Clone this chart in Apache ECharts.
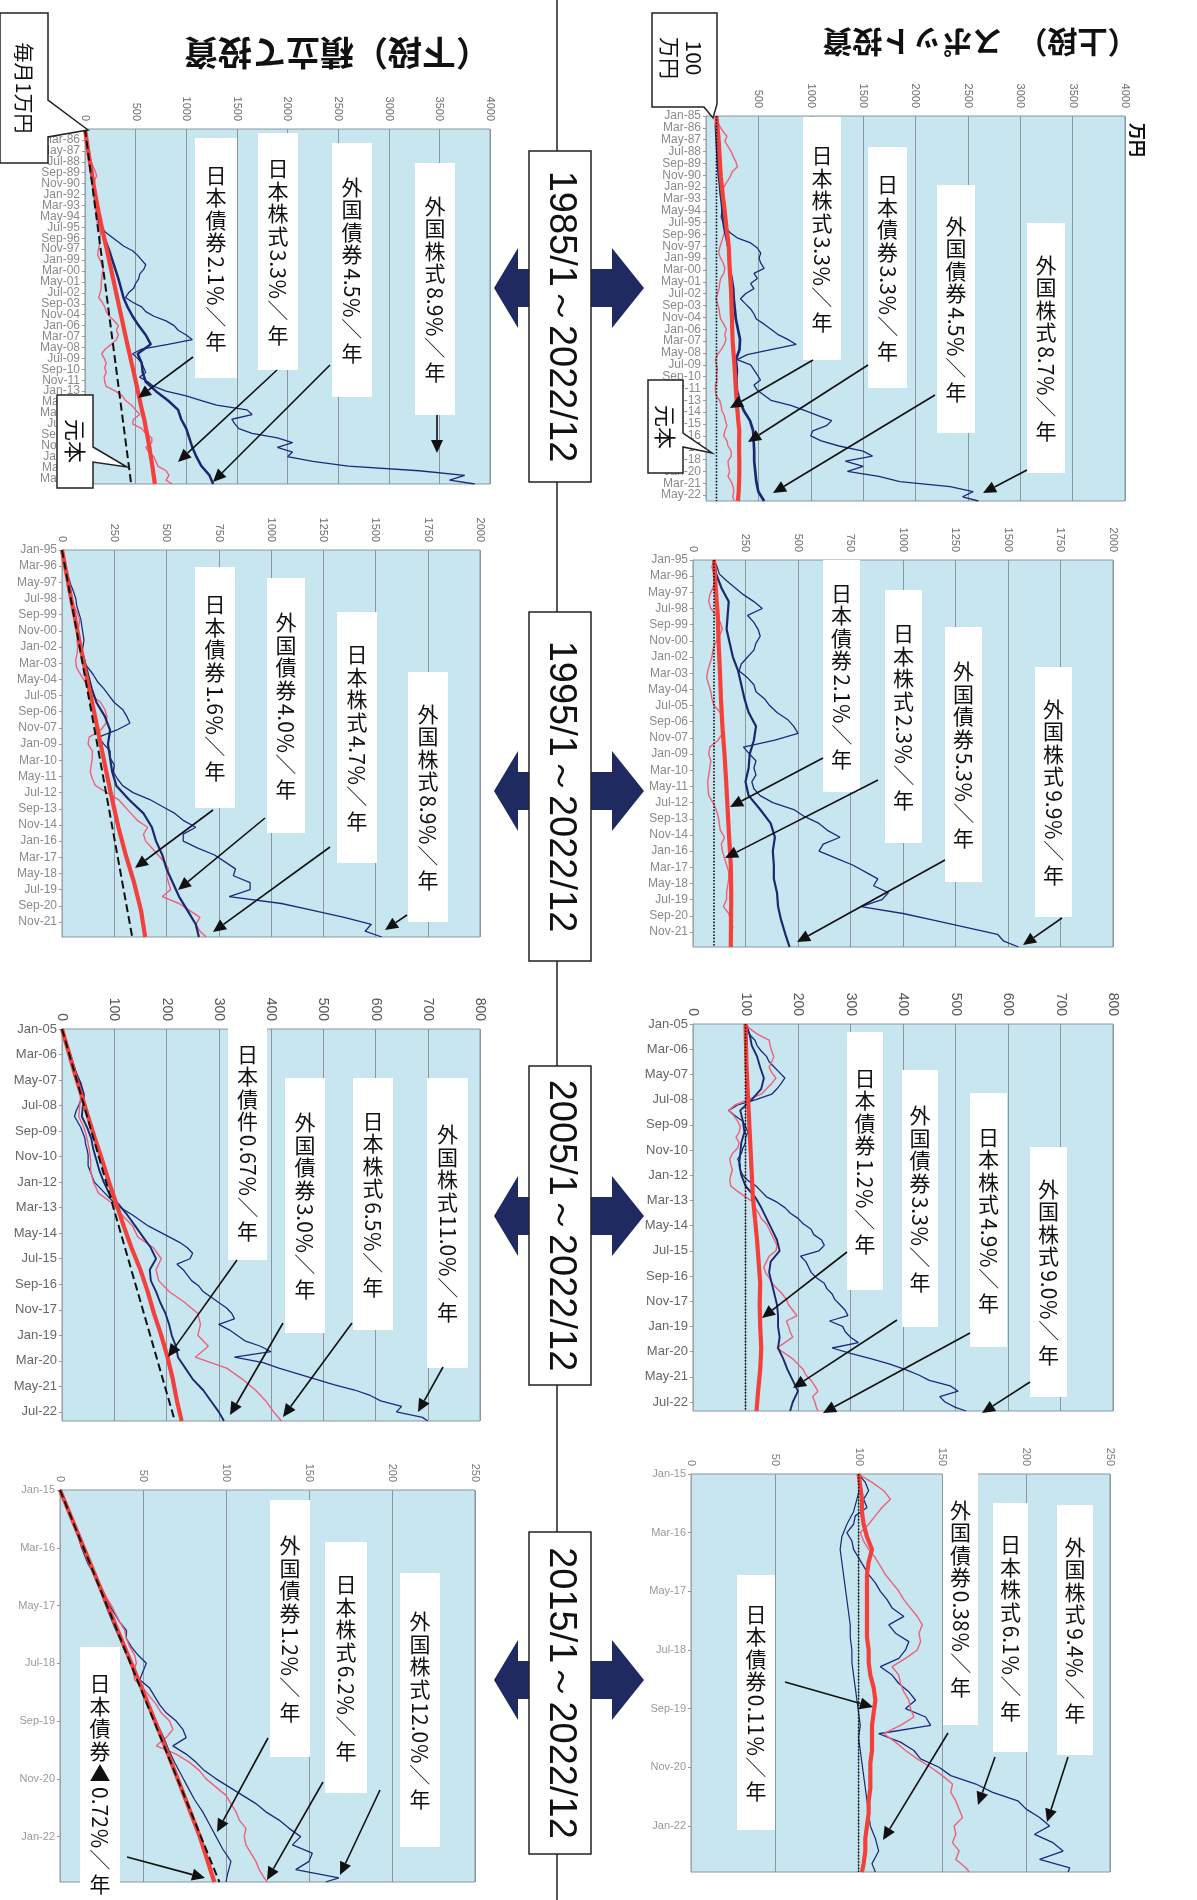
<!DOCTYPE html>
<html><head><meta charset="utf-8">
<script src="https://cdn.jsdelivr.net/npm/echarts/dist/echarts.min.js"></script>
<style>html,body{margin:0;padding:0;background:#fff}#c{width:1197px;height:1900px}</style>
</head><body><div id="c"></div>
<script>
// ===================== DATA (万円) =====================
const MONTHS = ['Jan','Feb','Mar','Apr','May','Jun','Jul','Aug','Sep','Oct','Nov','Dec'];
const periodLabels = ['1985/1～2022/12','1995/1～2022/12','2005/1～2022/12','2015/1～2022/12'];
const titleSpot = '（上段）　スポット投資';
const titleAccum = '（下段）積立て投資';

// ---- 1985/1 - 2022/12 spot (100万円) ----
const spot85_fstock = [100,105,95,100,105,115,110,120,130,140, 145,130,125,135,130,135,140,150,155,150,
 145,165,190,230,297,426,490,523,506,523, 555,458,490,426,458,377,329,377,426,458,
 480,555,620,684,780,861,620,394,297,426, 458,490,520,458,490,555,620,810,940,1070,
 1200,1150,1020,1000,1100,1270,1500,1590,1330,1500, 1350,1650,1850,2330,2550,2450,2600]; // every 6 months
const spot85_jstock = [100,110,130,160,200,180,210,240,260,285, 300,250,230,200,170,150,160,150,170,180,
 150,170,180,175,160,145,130,120,140,165, 180,170,140,130,125,110,95,110,125,130,
 140,170,195,180,190,175,145,110,90,100, 110,100,105,90,90,95,130,145,150,175,
 185,200,180,170,200,210,240,240,210,215, 225,210,240,260,265,255,270]; // every 6 months
const spot85_fbond = [100,95,100,105,110,115,125,135,145,155, 160,175,195,215,220,225,245,260,265,275,
 285,305,325,320,285,295,290,295,320,360, 420,450,455,460,460,470,480,500,555]; // every 12 months
const spot85_jbond = [100,108,118,125,130,135,142,152,162,175, 185,195,208,218,222,226,232,238,242,244,
 248,250,254,260,268,274,280,286,292,300, 308,318,316,316,318,318,316,312,305]; // every 12 months
const spot_principal = [100,100];

// ---- 1985/1 - 2022/12 accumulation (毎月1万円) ----
const accum85_fstock = [0,6,12,18,24,30,36,44,52,60, 66,68,75,85,92,100,110,120,128,132,
 135,160,200,260,320,380,470,520,560,600, 580,540,530,500,480,430,400,470,560,600,
 680,800,880,920,1000,1060,820,560,470,520, 560,580,600,540,620,680,800,1000,1150,1300,
 1600,1650,1450,1480,1520,1650,1900,2050,1900,2050, 2000,2250,2600,3300,3750,3600,3850];
const accum85_jstock = [0,7,14,24,35,40,50,62,80,100, 115,95,90,85,80,90,100,100,115,125,
 120,140,150,150,145,140,130,125,150,165, 180,170,165,160,160,150,135,170,195,210,
 240,290,330,310,330,310,260,200,165,190, 210,195,210,190,195,210,300,370,400,460,
 500,540,480,470,560,600,660,660,600,630, 680,700,720,800,830,800,860];
const accum85_fbond = [0,12,25,38,52,66,80,96,113,130, 150,175,205,240,270,300,330,355,380,420,
 470,530,600,650,520,560,570,600,700,820, 920,950,1000,1030,1060,1100,1150,1230,1266];
const accum85_jbond = [0,13,27,41,56,71,86,102,119,137, 156,176,197,218,238,258,278,298,318,338,
 358,378,398,418,440,460,482,502,522,542, 562,585,602,620,636,650,665,678,690];
const accum85_principal = [0,456];

// ---- 1995/1 - 2022/12 spot ----
const spot95_fstock = [100,115,125,160,200,240,290,330,260,290, 310,320,300,290,260,230,220,260,290,300,
 340,365,400,450,480,500,390,240,270,300, 290,300,280,290,320,380,480,530,600,640,
 700,620,600,680,760,820,880,860,930,900, 800,1000,1150,1300,1450,1480,1550];
const spot95_jstock = [100,90,100,105,95,80,75,85,110,130, 140,125,105,95,90,80,70,65,75,85,
 90,100,130,140,145,140,120,80,75,85, 80,75,70,72,75,95,110,120,125,130,
 150,135,140,150,160,170,170,165,160,160, 145,170,180,190,180,180,185];
const spot95_fbond = [100,110,135,170,165,160,175,190,215,230, 245,265,300,290,270,265,250,265,320,370,
 390,380,385,385,400,405,420,440,460];
const spot95_jbond = [100,108,118,122,128,133,140,150,158,165,172,180,182,181,180]; // every 24 months

// ---- 1995/1 - 2022/12 accumulation ----
const accum95_fstock = [0,6,13,22,32,42,55,66,70,80, 90,95,100,105,100,95,100,125,150,170,
 200,225,250,290,310,325,260,175,200,230, 230,250,245,265,290,340,420,480,540,580,
 640,580,580,650,730,780,830,820,900,900, 800,1050,1200,1350,1480,1450,1530];
const accum95_jstock = [0,5,12,17,22,25,30,38,55,72, 85,80,75,72,75,72,65,70,90,110,
 125,145,185,205,215,210,185,130,125,145, 145,140,135,145,160,215,270,300,330,360,
 410,390,400,430,460,490,510,500,510,520, 480,560,610,660,640,660,690];
const accum95_fbond = [0,12,26,40,50,62,75,90,108,125, 142,165,205,230,220,230,240,260,320,390,
 430,450,480,500,530,560,600,640,655];
const accum95_jbond = [0,25,50,76,102,130,158,185,212,240,270,305,345,378,398]; // every 24 months
const accum95_principal = [0,336];

// ---- 2005/1 - 2022/12 spot ----
const spot05_fstock = [100,105,108,118,122,130,140,145,155,165, 175,168,160,150,120,85,68,80,95,100,
 105,100,100,95,92,85,90,90,95,105, 120,130,140,160,175,185,200,210,225,230,
 245,250,240,205,215,220,225,235,250,255, 265,270,280,290,295,260,285,290,300,315,
 265,300,340,375,405,430,450,490,505,470, 480,500,520]; // every 3 months
const spot05_jstock = [100,110,125,145,147,150,154,150,145,150, 158,150,140,130,105,80,68,78,85,90,
 88,82,88,85,75,70,72,75,72,70, 72,85,100,115,118,125,130,140,145,150,
 155,160,158,145,140,135,138,145,150,160, 170,178,182,190,198,178,182,185,190,175,
 160,175,190,200,210,215,225,232,238,228, 232,235,238]; // every 3 months
const spot05_fbond = [100,108,112,122,128,135,130,112,90,95, 98,92,90,88,92,100,118,130,140,150,
 160,165,148,145,150,155,160,162,162,165, 162,172,180,190,200,190,185]; // every 6 months
const spot05_jbond = [100,101,102,104,106,108,110,112,114,118,122,125,128,127,128,130,128,124,121]; // every 12 months

// ---- 2005/1 - 2022/12 accumulation ----
const accum05_fstock = [0,3,6,10,13,16,20,23,27,31, 35,36,37,36,32,27,24,30,36,40,
 44,45,48,50,50,50,54,58,62,72, 82,92,102,118,135,150,165,185,205,225,
 240,250,245,220,232,240,248,262,270,285, 300,315,325,330,300,320,335,350,380,400,
 330,385,415,450,485,520,560,590,610,650, 640,690,700]; // every 3 months
const accum05_jstock = [0,7,15,21,26,33,36,34,32,42, 48,52,55,55,60,70,98,115,135,145,
 175,190,180,185,205,235,260,265,260,280, 255,315,345,370,390,405,420]; // every 6 months
const accum05_fbond = [0,6,13,20,27,36,42,40,38,48, 56,60,66,72,80,90,108,125,140,155,
 170,180,168,170,180,188,198,205,210,218, 222,236,250,270,285,300,310]; // every 6 months
const accum05_jbond = [0,12,24,37,50,63,77,90,104,118,133,150,164,176,190,202,212,220,229]; // every 12 months
const accum05_principal = [0,216];

// ---- 2015/1 - 2022/12 spot ----
const spot15_fstock = [100,104,106,103,105,98,97,93,96,97, 100,103,106,110,113,117,120,127,118,122,
 130,128,124,113,120,124,130,134,128,140, 143,112,125,133,137,148,155,170,180,195,
 200,208,214,205,216,222,208,226,225]; // every 2 months
const spot15_jstock = [100,108,115,119,114,110,106,101,103,106, 110,113,116,120,124,127,131,135,138,136,
 137,135,128,120,124,125,127,130,131,133, 125,115,122,128,135,143,150,156,155,158,
 160,162,157,158,156,160,158,164,166]; // every 2 months
const spot15_fbond = [100,101,99,97,93,90,89,90,91,92, 93,94,95,95,96,96,97,98,99,100,
 101,100,101,102,103,104,105,106,107,110, 112,108,110]; // every 3 months
const spot15_jbond = [100,101,102,102,103,105,108,106,105,105, 105,105,105,105,106,106,107,109,110,109,
 108,108,108,107,107,107,106,106,105,104, 104,103,102]; // every 3 months

// ---- 2015/1 - 2022/12 accumulation ----
const accum15_fstock = [0,2,4,6,8,10,11.5,13,15,17, 20,22.5,25,27.5,30,33,36,40,40,43,
 47,52,50,48,54,57,60,64,70,74, 76,68,76,82,87,94,102,110,118,124,
 132,138,145,140,152,150,142,168,160]; // every 2 months
const accum15_jstock = [0,2.1,4.3,6.4,8.2,10,11.6,13.5,15.8,18, 20.5,23,25.5,28,31,33.5,36,39,40,42,
 45,46,44,45,50,54,58,61,66,68, 64,58,70,78,84,88,94,100,103,106,
 108,112,111,112,115,118,120,123,125]; // every 2 months
const accum15_fbond = [0,3,5.8,8.7,11.6,14.5,17.6,20.8,23.8,26.6, 29.5,32.6,35.8,39,42.3,45.5,48.8,52,55.5,59,
 62.5,65.5,69,73,77,81,86,90,94,98, 103,101,100]; // every 3 months
const accum15_jbond = [0,12.3,24.6,36.8,49.2,61.2,72.8,84.2,93]; // every 12 months
const accum15_principal = [0,96];

// ===================== LAYOUT =====================
const panels = [
 {grid:[706,116,419,385], vmax:4000, vint:500, last:455, y0:1985, accum:false,
  d:{fs:spot85_fstock,js:spot85_jstock,fb:spot85_fbond,jb:spot85_jbond,pr:spot_principal}, st:{fs:6,js:6,fb:12,jb:12},
  vFont:11, vCol:'#6f6f6f', dFont:12, dCol:'#8a8a8a', fbW:2.7},
 {grid:[85,129,405,355], vmax:4000, vint:500, last:455, y0:1985, accum:true,
  d:{fs:accum85_fstock,js:accum85_jstock,fb:accum85_fbond,jb:accum85_jbond,pr:accum85_principal}, st:{fs:6,js:6,fb:12,jb:12},
  vFont:11, vCol:'#6f6f6f', dFont:12, dCol:'#8a8a8a', fbW:2.5},
 {grid:[693,560,420,387], vmax:2000, vint:250, last:335, y0:1995, accum:false,
  d:{fs:spot95_fstock,js:spot95_jstock,fb:spot95_fbond,jb:spot95_jbond,pr:spot_principal}, st:{fs:6,js:6,fb:12,jb:24},
  vFont:11, vCol:'#6f6f6f', dFont:12, dCol:'#8a8a8a', fbW:2.2},
 {grid:[62,550,418,387], vmax:2000, vint:250, last:335, y0:1995, accum:true,
  d:{fs:accum95_fstock,js:accum95_jstock,fb:accum95_fbond,jb:accum95_jbond,pr:accum95_principal}, st:{fs:6,js:6,fb:12,jb:24},
  vFont:11, vCol:'#6f6f6f', dFont:12, dCol:'#8a8a8a', fbW:2.2},
 {grid:[693,1024,420,387], vmax:800, vint:100, last:215, y0:2005, accum:false,
  d:{fs:spot05_fstock,js:spot05_jstock,fb:spot05_fbond,jb:spot05_jbond,pr:spot_principal}, st:{fs:3,js:3,fb:6,jb:12},
  vFont:14, vCol:'#555', dFont:13, dCol:'#666', fbW:1.9},
 {grid:[62,1029,418,392], vmax:800, vint:100, last:215, y0:2005, accum:true,
  d:{fs:accum05_fstock,js:accum05_jstock,fb:accum05_fbond,jb:accum05_jbond,pr:accum05_principal}, st:{fs:3,js:6,fb:6,jb:12},
  vFont:14, vCol:'#555', dFont:13, dCol:'#666', fbW:1.9},
 {grid:[691,1474,419,398], vmax:250, vint:50, last:95, y0:2015, accum:false,
  d:{fs:spot15_fstock,js:spot15_jstock,fb:spot15_fbond,jb:spot15_jbond,pr:spot_principal}, st:{fs:2,js:2,fb:3,jb:3},
  vFont:11, vCol:'#7a7a7a', dFont:11, dCol:'#999', fbW:1.2},
 {grid:[60,1490,415,392], vmax:250, vint:50, last:95, y0:2015, accum:true,
  d:{fs:accum15_fstock,js:accum15_jstock,fb:accum15_fbond,jb:accum15_jbond,pr:accum15_principal}, st:{fs:2,js:2,fb:3,jb:12},
  vFont:11, vCol:'#7a7a7a', dFont:11, dCol:'#999', fbW:1.2}
];

const notes = [
 [ {t:'日本株式3.3%/年', box:[803,117,841,360], ar:[813,360,730,408]},
   {t:'日本債券3.3%/年', box:[868,147,907,388], ar:[868,365,748,442]},
   {t:'外国債券4.5%/年', box:[937,185,975,433], ar:[935,395,773,493]},
   {t:'外国株式8.7%/年', box:[1027,223,1065,473], ar:[1027,470,983,493]} ],
 [ {t:'日本債券2.1%/年', box:[195,138,237,378], ar:[193,357,138,398]},
   {t:'日本株式3.3%/年', box:[258,133,298,370], ar:[277,370,178,462]},
   {t:'外国債券4.5%/年', box:[332,143,372,397], ar:[330,365,213,482]},
   {t:'外国株式8.9%/年', box:[415,163,455,415], ar:[437,415,437,453]} ],
 [ {t:'日本債券2.1%/年', box:[823,560,860,792], ar:[823,758,730,807]},
   {t:'日本株式2.3%/年', box:[885,590,922,843], ar:[878,780,725,858]},
   {t:'外国債券5.3%/年', box:[945,627,982,882], ar:[945,860,797,942]},
   {t:'外国株式9.9%/年', box:[1035,667,1072,917], ar:[1062,918,1023,945]} ],
 [ {t:'日本債券1.6%/年', box:[195,567,235,808], ar:[213,810,135,868]},
   {t:'外国債券4.0%/年', box:[267,578,305,833], ar:[265,818,178,890]},
   {t:'日本株式4.7%/年', box:[337,612,377,863], ar:[330,847,213,932]},
   {t:'外国株式8.9%/年', box:[408,672,448,922], ar:[407,915,385,930]} ],
 [ {t:'日本債券1.2%/年', box:[847,1032,883,1290], ar:[847,1252,762,1318]},
   {t:'外国債券3.3%/年', box:[902,1070,938,1327], ar:[897,1320,793,1388]},
   {t:'日本株式4.9%/年', box:[970,1093,1007,1347], ar:[970,1333,823,1413]},
   {t:'外国株式9.0%/年', box:[1030,1147,1067,1397], ar:[1030,1382,982,1413]} ],
 [ {t:'日本債件0.67%/年', box:[228,1025,267,1260], ar:[237,1260,168,1357]},
   {t:'外国債券3.0%/年', box:[285,1078,325,1333], ar:[283,1323,230,1415]},
   {t:'日本株式6.5%/年', box:[353,1078,393,1330], ar:[352,1323,283,1417]},
   {t:'外国株式11.0%/年', box:[427,1078,468,1368], ar:[443,1367,418,1412]} ],
 [ {t:'日本債券0.11%/年', box:[737,1575,775,1830], ar:[785,1682,873,1707]},
   {t:'外国債券0.38%/年', box:[943,1472,978,1725], ar:[948,1733,883,1840]},
   {t:'日本株式6.1%/年', box:[993,1503,1028,1752], ar:[995,1757,978,1805]},
   {t:'外国株式9.4%/年', box:[1057,1505,1093,1755], ar:[1068,1757,1047,1822]} ],
 [ {t:'日本債券▲0.72%/年', box:[80,1647,120,1920], ar:[127,1857,205,1878]},
   {t:'外国債券1.2%/年', box:[270,1500,310,1757], ar:[268,1738,217,1832]},
   {t:'日本株式6.2%/年', box:[325,1542,367,1793], ar:[323,1782,267,1880]},
   {t:'外国株式12.0%/年', box:[400,1573,440,1847], ar:[380,1790,340,1875]} ]
];

const CJK = '"Noto Sans CJK JP","Noto Sans CJK SC",sans-serif';
const LAT = '"Liberation Sans",Arial,sans-serif';
const NAVY = '#1c2a7c';

// ===================== BUILD =====================
const mctx = document.createElement('canvas').getContext('2d');
function tw(s, font){ mctx.font = font; return mctx.measureText(s).width; }

const els = [];
function vLabel(cx, cy, str, fs) {
  const toks = str.match(/[0-9.%\/]+|./g);
  const font = fs + 'px ' + CJK;
  const items = toks.map(t => {
    if (/^[0-9.%\/]+$/.test(t)) {
      const s = t.replace(/%/g,'％').replace(/\//g,'／');
      return {s, rot:true, h: tw(s, font) + 5};
    }
    return {s:t, rot:false, h: fs + 1.5};
  });
  const total = items.reduce((a,b)=>a+b.h,0);
  let y = cy - total/2;
  items.forEach(it => {
    els.push({type:'text', x:cx, y:y+it.h/2, rotation: it.rot ? -Math.PI/2 : 0, z:120, silent:true,
      style:{text:it.s, font:font, fill:'#111', align:'center', verticalAlign:'middle'}});
    y += it.h;
  });
}
function arrow(x1,y1,x2,y2){
  const dx=x2-x1, dy=y2-y1, L=Math.hypot(dx,dy), ux=dx/L, uy=dy/L, hl=13, hw=6;
  const bx=x2-ux*hl, by=y2-uy*hl;
  els.push({type:'line', z:120, silent:true, shape:{x1:x1,y1:y1,x2:bx,y2:by}, style:{stroke:'#111', lineWidth:1.6}});
  els.push({type:'polygon', z:120, silent:true, shape:{points:[[x2,y2],[bx-uy*hw,by+ux*hw],[bx+uy*hw,by-ux*hw]]}, style:{fill:'#111'}});
}
function rotText(x,y,text,font,rot,extra){
  els.push(Object.assign({type:'text', x:x, y:y, rotation:rot, z:130, silent:true,
    style:{text:text, font:font, fill:'#111', align:'center', verticalAlign:'middle'}}, extra||{}));
}
function poly(points, z){
  els.push({type:'polygon', z:z||125, silent:true, shape:{points:points}, style:{fill:'#fff', stroke:'#222', lineWidth:1.5}});
}

notes.forEach(list => list.forEach(n => {
  const [x0,y0,x1,y1] = n.box;
  els.push({type:'rect', z:110, silent:true, shape:{x:x0,y:y0,width:x1-x0,height:y1-y0}, style:{fill:'#fff'}});
  vLabel((x0+x1)/2, (y0+y1)/2, n.t, 21);
  arrow(...n.ar);
}));

// center column
els.push({type:'line', z:50, silent:true, shape:{x1:557,y1:0,x2:557,y2:1900}, style:{stroke:'#222', lineWidth:1.5}});
const rowBoxes = [[151,482],[612,961],[1066,1385],[1532,1854]];
const arrowY = [288,791,1216,1680];
rowBoxes.forEach((b,i) => {
  const cy = arrowY[i];
  els.push({type:'polygon', z:55, silent:true, style:{fill:'#1f2a60'},
    shape:{points:[[494,cy],[518,cy-40],[518,cy-19],[530,cy-19],[530,cy+19],[518,cy+19],[518,cy+40]]}});
  els.push({type:'polygon', z:55, silent:true, style:{fill:'#1f2a60'},
    shape:{points:[[644,cy],[612,cy-40],[612,cy-19],[590,cy-19],[590,cy+19],[612,cy+19],[612,cy+40]]}});
  els.push({type:'rect', z:60, silent:true, shape:{x:529,y:b[0],width:62,height:b[1]-b[0]}, style:{fill:'#fff', stroke:'#222', lineWidth:1.5}});
  rotText(560, (b[0]+b[1])/2, periodLabels[i], '38px ' + LAT, -Math.PI/2);
});

// titles (upside-down as in the scan)
rotText(980, 42, titleSpot, 'bold 30px ' + CJK, Math.PI);
rotText(337, 53, titleAccum, 'bold 34px ' + CJK, Math.PI);
rotText(1137, 140, '万円', 'bold 17px ' + CJK, -Math.PI/2);

// callouts
poly([[652,13],[717,13],[717,104],[713,118],[704,107],[652,107]]);
rotText(682, 58, '100\n万円', '21px ' + CJK, -Math.PI/2, {style:{text:'100\n万円', font:'21px '+CJK, fill:'#111', align:'center', verticalAlign:'middle', lineHeight:24}});
poly([[648,380],[683,380],[683,433],[712,453],[683,447],[683,473],[648,473]]);
rotText(665, 427, '元本', '22px ' + CJK, -Math.PI/2);
poly([[0,13],[48,13],[48,100],[88,130],[48,137],[48,163],[0,163]]);
rotText(24, 88, '毎月1万円', '20px ' + CJK, -Math.PI/2);
poly([[57,395],[93,395],[93,447],[127,467],[93,462],[93,488],[57,488]]);
rotText(75, 441, '元本', '22px ' + CJK, -Math.PI/2);

const grids = [], xAxes = [], yAxes = [], series = [];
panels.forEach((p, i) => {
  grids.push({left:p.grid[0], top:p.grid[1], width:p.grid[2], height:p.grid[3], show:true,
    backgroundColor:'#c7e6f0', borderColor:'#8a989e', borderWidth:1});
  xAxes.push({type:'value', gridIndex:i, position:'top', min:0, max:p.vmax, interval:p.vint,
    axisLine:{show:false}, axisTick:{show:false},
    splitLine:{show:true, lineStyle:{color:'#8a989e', width:1}},
    axisLabel:{rotate:-90, margin:8, fontSize:p.vFont, color:p.vCol, fontFamily:LAT, formatter: v => String(v)}});
  const y0 = p.y0;
  yAxes.push({type:'value', gridIndex:i, inverse:true, min:0, max:p.last, interval:14,
    splitLine:{show:false}, axisLine:{show:true, lineStyle:{color:'#9aa6ab'}},
    axisTick:{show:true, length:3, lineStyle:{color:'#999'}},
    axisLabel:{margin:5, fontSize:p.dFont, color:p.dCol, fontFamily:LAT, showMaxLabel:false,
      formatter: v => (v % 14 !== 0) ? '' : MONTHS[v % 12] + '-' + String((y0 + Math.floor(v/12)) % 100).padStart(2,'0')}});
  const mk = (arr, step) => arr.map((v,k) => [v, Math.min(k*step, p.last)]);
  const base = {type:'line', xAxisIndex:i, yAxisIndex:i, showSymbol:false, symbol:'none', silent:true, animation:false};
  series.push(Object.assign({}, base, {name:'外国株式', z:3, data:mk(p.d.fs, p.st.fs), lineStyle:{color:NAVY, width:1.3}}));
  series.push(Object.assign({}, base, {name:'日本株式', z:4, data:mk(p.d.js, p.st.js), lineStyle:{color:'#ef6079', width:1.4}}));
  series.push(Object.assign({}, base, {name:'外国債券', z:5, data:mk(p.d.fb, p.st.fb), lineStyle:{color:'#1a2870', width:p.fbW}}));
  series.push(Object.assign({}, base, {name:'日本債券', z:6, data:mk(p.d.jb, p.st.jb), lineStyle:{color:'#f4403b', width:4.2}}));
  series.push(Object.assign({}, base, {name:'元本', z:7, data:mk(p.d.pr, p.last),
    lineStyle:{color:'#111', width: p.accum ? 2 : 1.6, type: p.accum ? 'dashed' : 'dotted'}}));
});

const chart = echarts.init(document.getElementById('c'), null, {renderer:'canvas'});
chart.setOption({
  animation:false, backgroundColor:'#fff',
  grid:grids, xAxis:xAxes, yAxis:yAxes, series:series,
  graphic:{elements:els}
});
</script></body></html>
